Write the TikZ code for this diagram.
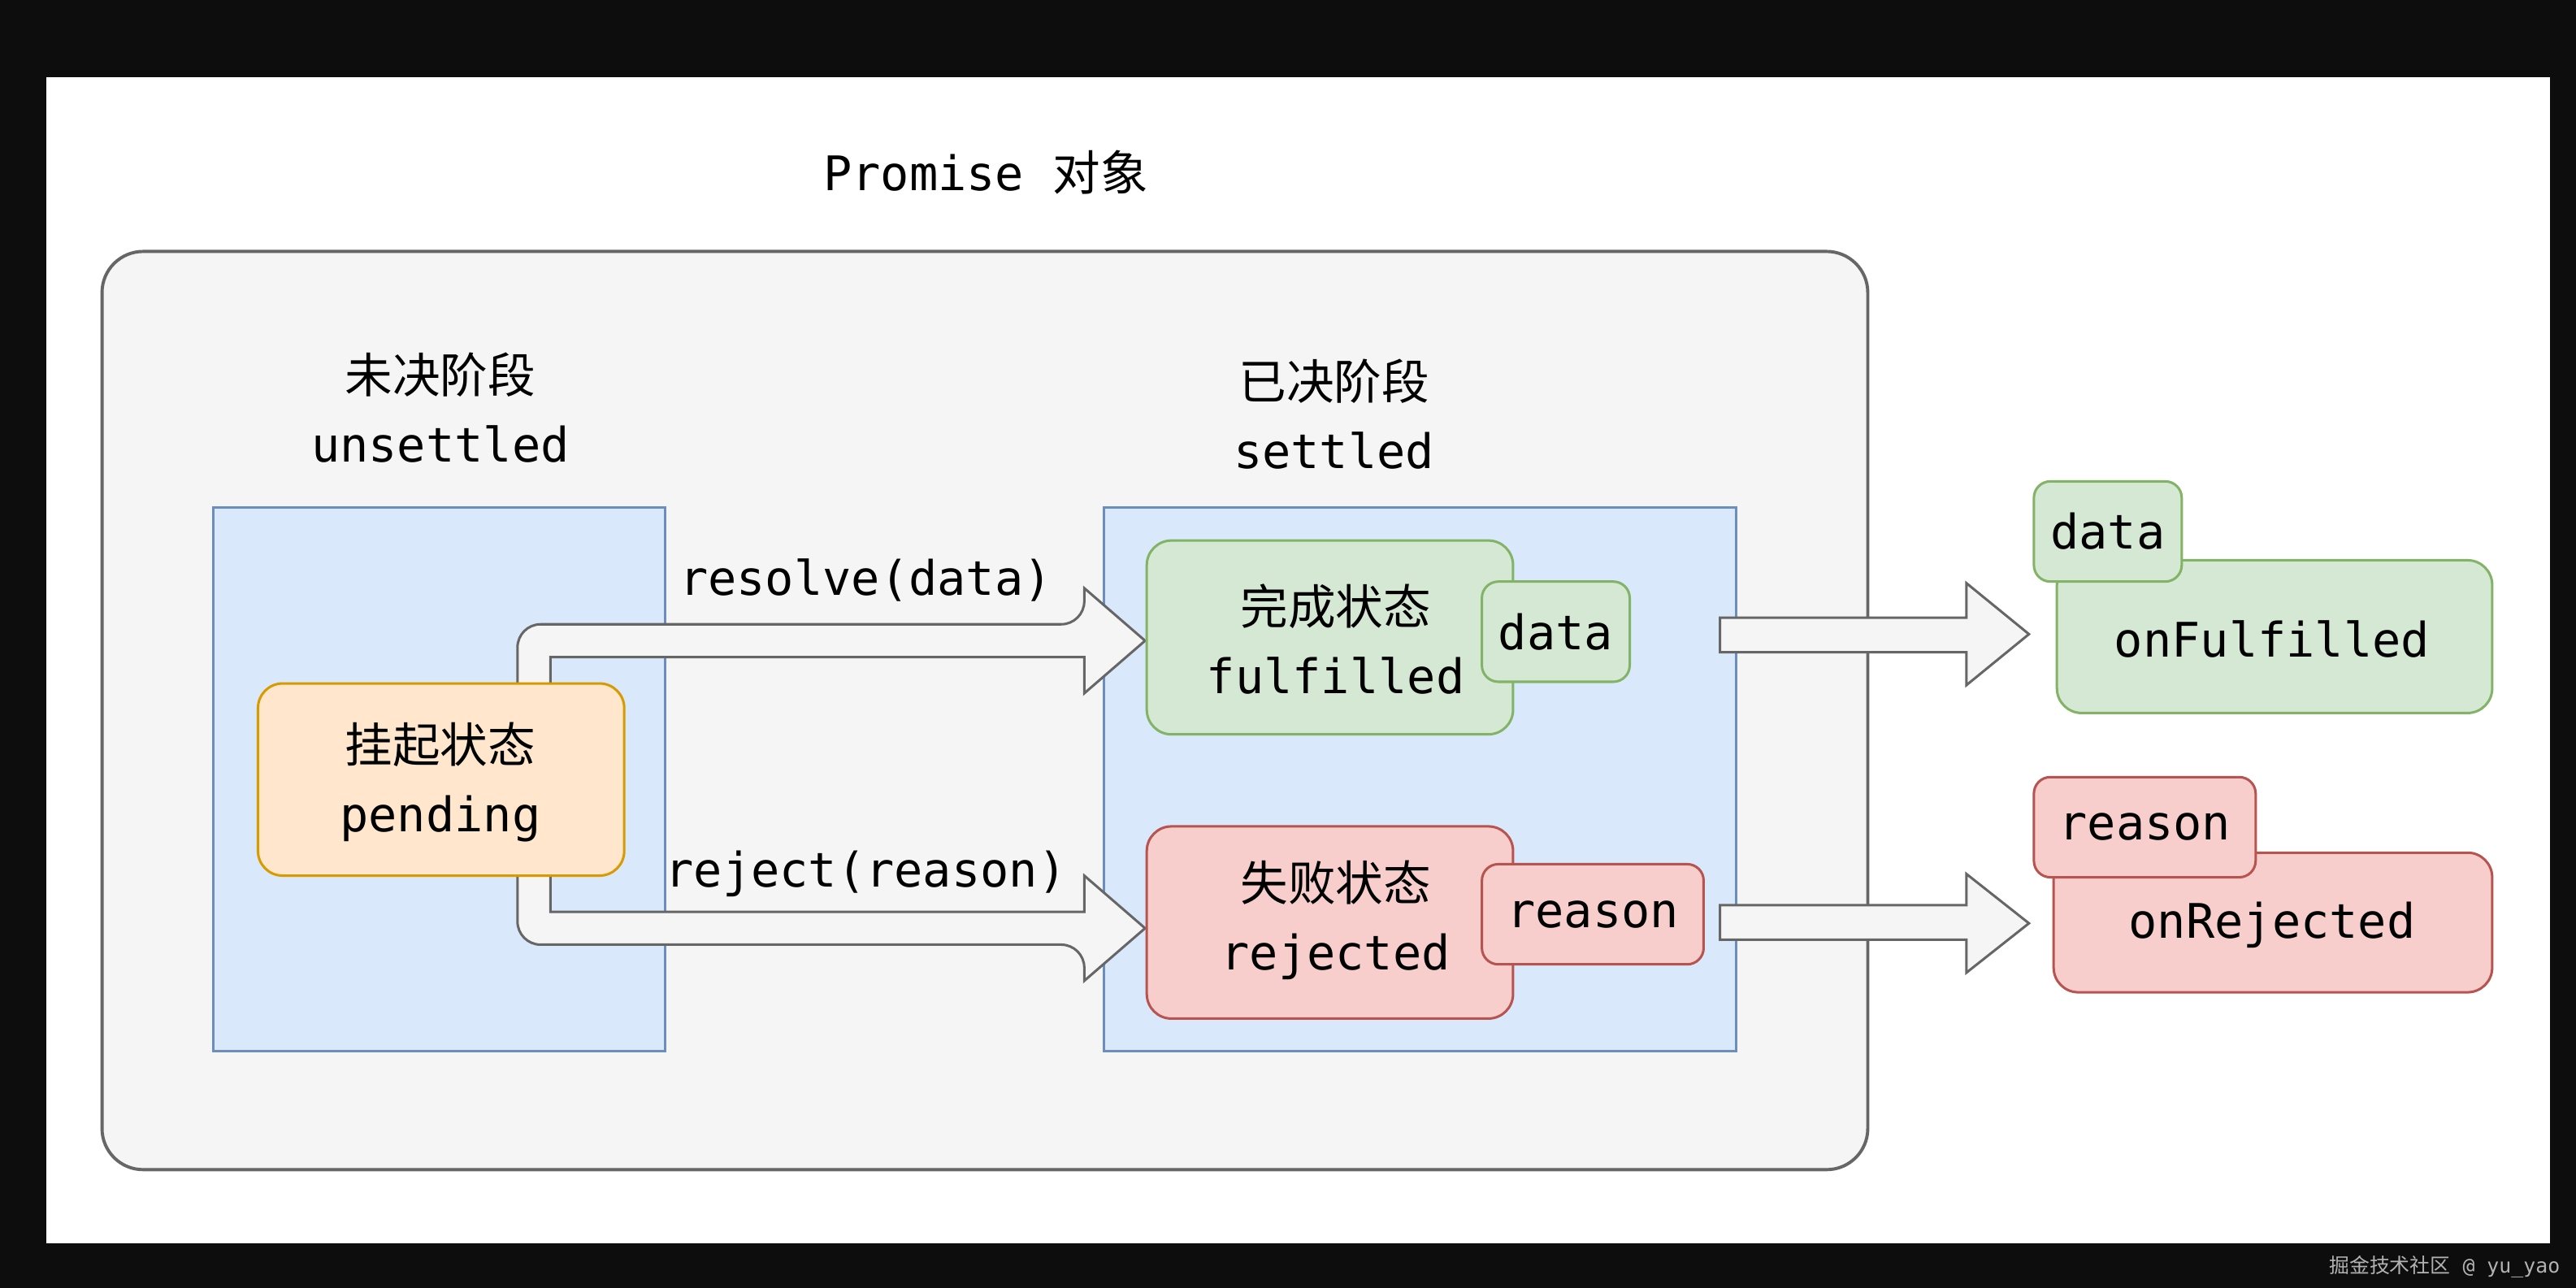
\documentclass[tikz,border=0pt]{standalone}
\usepackage{fontspec}
\setmainfont{DejaVu Sans Mono}
\newfontfamily\cjk{Noto Sans CJK SC}
\begin{document}
\begin{tikzpicture}[x=0.02cm,y=-0.02cm,
  font=\fontsize{16.5}{24}\selectfont,
  box/.style={draw,rounded corners=0.3cm,line width=0.85pt},
  blue/.style={draw=blue!40!black!60,draw=cBlueS,fill=cBlue,line width=0.85pt},
  green/.style={box,fill=cGreen,draw=cGreenS},
  red/.style={box,fill=cRed,draw=cRedS},
  orange/.style={box,fill=cOr,draw=cOrS},
  barrow/.style={fill=cArr,draw=cArrS,line width=0.85pt},
  txt/.style={align=center,inner sep=0}]
\definecolor{cBlue}{HTML}{DAE8FC}\definecolor{cBlueS}{HTML}{6C8EBF}
\definecolor{cGreen}{HTML}{D5E8D4}\definecolor{cGreenS}{HTML}{82B366}
\definecolor{cRed}{HTML}{F8CECC}\definecolor{cRedS}{HTML}{B85450}
\definecolor{cOr}{HTML}{FFE6CC}\definecolor{cOrS}{HTML}{D79B00}
\definecolor{cArr}{HTML}{F5F5F5}\definecolor{cArrS}{HTML}{666666}
\fill[black!95] (0,0) rectangle (1568,784);
\fill[white] (28,47) rectangle (1552,757);
\useasboundingbox (0,0) rectangle (1568,784);
\node[box,rounded corners=0.5cm,fill=cArr,draw=cArrS,line width=1.1pt,minimum width=21.5cm,minimum height=11.18cm] (outer) at (599.5,432.5) {};
\node[txt] (title) at (600,105) {Promise {\cjk 对象}};
\node[txt] (ul) at (268,248) {{\cjk 未决阶段}\\unsettled};
\node[txt] (sl) at (812,252) {{\cjk 已决阶段}\\settled};
\node[blue,minimum width=5.5cm,minimum height=6.62cm] (lb) at (267.5,474.5) {};
\node[blue,minimum width=7.7cm,minimum height=6.62cm] (rb) at (864.5,474.5) {};
% bent block arrows
\draw[barrow,rounded corners=8pt] (315,418) -- (315,380) -- (660,380) [sharp corners] -- (660,358) -- (697,390) -- (660,422) -- (660,400) -- (335,400) -- (335,418);
\draw[barrow,rounded corners=8pt] (315,531) -- (315,575) -- (660,575) [sharp corners] -- (660,597) -- (697,565) -- (660,533) -- (660,555) -- (335,555) -- (335,531);
\node[orange,minimum width=4.46cm,minimum height=2.34cm] (pend) at (268.5,474.5) {};
\node[txt] at (268,476) {{\cjk 挂起状态}\\pending};
\node[txt] (rl) at (527,353) {resolve(data)};
\node[txt] (jl) at (527,532) {reject(reason)};
\node[green,minimum width=4.46cm,minimum height=2.36cm] (ful) at (809.5,388) {};
\node[txt] at (813,389) {{\cjk 完成状态}\\fulfilled};
\node[green,rounded corners=0.2cm,minimum width=1.8cm,minimum height=1.22cm] (d1) at (947,384.5) {data};
\node[red,minimum width=4.46cm,minimum height=2.34cm] (rej) at (809.5,561.5) {};
\node[txt] at (813,560) {{\cjk 失败状态}\\rejected};
\node[red,rounded corners=0.2cm,minimum width=2.7cm,minimum height=1.22cm] (r1) at (969.5,556.5) {reason};
% straight block arrows
\draw[barrow] (1047,376) -- (1197,376) -- (1197,355) -- (1235,386) -- (1197,417) -- (1197,397) -- (1047,397) -- cycle;
\draw[barrow] (1047,551) -- (1197,551) -- (1197,532) -- (1235,562) -- (1197,592) -- (1197,572) -- (1047,572) -- cycle;
\node[green,minimum width=5.3cm,minimum height=1.86cm] (onf) at (1384.5,387.5) {};
\node[txt] at (1383,389) {onFulfilled};
\node[green,rounded corners=0.2cm,minimum width=1.8cm,minimum height=1.22cm] (d2) at (1283,323.5) {data};
\node[red,minimum width=5.34cm,minimum height=1.7cm] (onr) at (1383.5,561.5) {};
\node[txt] at (1383,563) {onRejected};
\node[red,rounded corners=0.2cm,minimum width=2.7cm,minimum height=1.22cm] (r2) at (1305.5,503.5) {reason};
\node[txt,text=gray!60,font=\fontsize{7}{8}\selectfont] (wm) at (1488,771) {{\cjk 掘金技术社区} @ yu\_yao};
\end{tikzpicture}
\end{document}
